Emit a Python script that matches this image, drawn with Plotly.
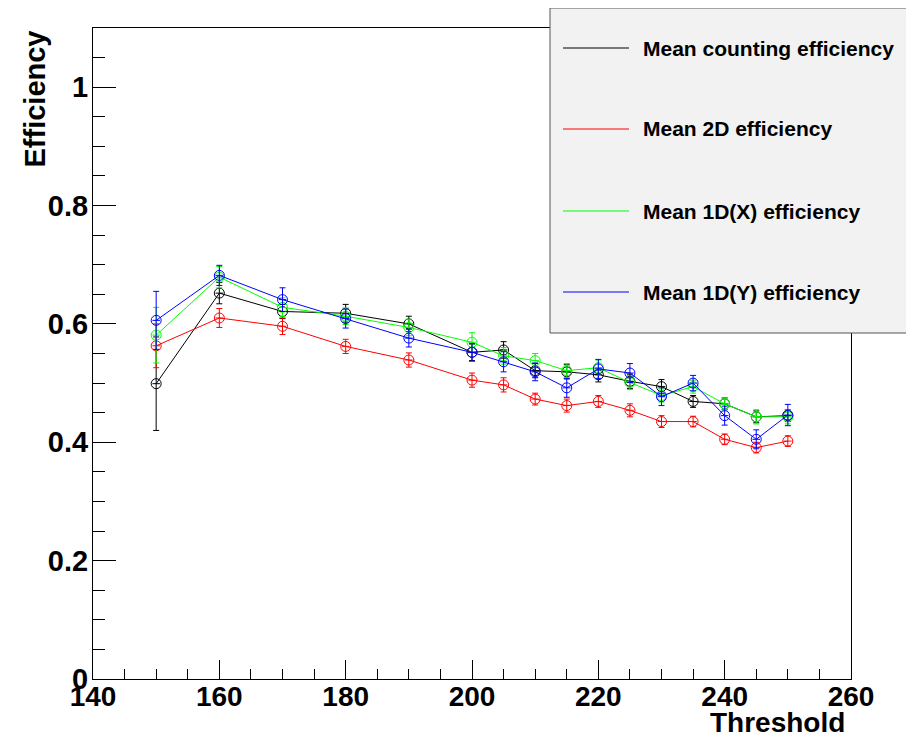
import plotly.graph_objects as go

# ---------------- data ----------------
threshold = [150, 160, 170, 180, 190, 200, 205, 210, 215, 220, 225, 230, 235, 240, 245, 250]
thr_err = [0.6] * 16

eff_counting = [0.499, 0.652, 0.621, 0.618, 0.600, 0.552, 0.556, 0.521, 0.519, 0.514, 0.503, 0.494, 0.469, 0.465, 0.443, 0.445]
err_counting = [0.079, 0.018, 0.012, 0.015, 0.013, 0.014, 0.014, 0.012, 0.012, 0.012, 0.012, 0.012, 0.010, 0.010, 0.010, 0.010]

eff_2d = [0.563, 0.610, 0.596, 0.562, 0.539, 0.505, 0.497, 0.473, 0.462, 0.469, 0.454, 0.435, 0.435, 0.405, 0.391, 0.402]
err_2d = [0.037, 0.016, 0.014, 0.012, 0.012, 0.012, 0.012, 0.010, 0.011, 0.010, 0.011, 0.010, 0.009, 0.009, 0.009, 0.009]

eff_1dx = [0.581, 0.679, 0.628, 0.613, 0.594, 0.569, 0.546, 0.538, 0.521, 0.526, 0.501, 0.479, 0.494, 0.465, 0.443, 0.443]
err_1dx = [0.047, 0.018, 0.016, 0.014, 0.014, 0.016, 0.014, 0.012, 0.012, 0.013, 0.012, 0.011, 0.011, 0.010, 0.012, 0.012]

eff_1dy = [0.606, 0.682, 0.641, 0.609, 0.576, 0.552, 0.536, 0.519, 0.492, 0.524, 0.517, 0.477, 0.500, 0.445, 0.405, 0.446]
err_1dy = [0.049, 0.017, 0.020, 0.016, 0.015, 0.015, 0.017, 0.015, 0.016, 0.016, 0.016, 0.015, 0.013, 0.016, 0.016, 0.018]

series_names = ["Mean counting efficiency", "Mean 2D efficiency",
                "Mean 1D(X) efficiency", "Mean 1D(Y) efficiency"]
series_colors = ["#000000", "#ff0000", "#00ff00", "#0000ff"]
series_values = [eff_counting, eff_2d, eff_1dx, eff_1dy]
series_errors = [err_counting, err_2d, err_1dx, err_1dy]

x_title = "Threshold"
y_title = "Efficiency"

# ---------------- layout geometry ----------------
# page body has an 8px margin, so the figure is 8px smaller and offset
OFF = 8
W, H = 914 - OFF, 745 - OFF
ML, MR, MT, MB = 93 - OFF, 63, 28 - OFF, 66
PW, PH = W - ML - MR, H - MT - MB
FONT = "Liberation Sans, Arial, Helvetica, sans-serif"


def px_x(p):
    return (p - OFF - ML) / PW


def px_y(p):
    return (H + OFF - MB - p) / PH


fig = go.Figure()
for name, col, vals, errs in zip(series_names, series_colors, series_values, series_errors):
    fig.add_trace(go.Scatter(
        x=threshold, y=vals, name=name, mode="lines+markers",
        line=dict(color=col, width=1),
        marker=dict(symbol="circle-open", size=10, color=col, line=dict(width=1, color=col)),
        error_y=dict(type="data", array=errs, visible=True, color=col, thickness=1, width=3),
        error_x=dict(type="data", array=thr_err, visible=True, color=col, thickness=1, width=0),
        showlegend=False,
    ))

shapes = []
annotations = []

# legend box
shapes.append(dict(type="rect", xref="paper", yref="paper",
                   x0=px_x(550), x1=px_x(940), y0=px_y(333), y1=px_y(8),
                   fillcolor="#f2f2f2", line=dict(color="#555555", width=1), layer="above"))
leg_y = [48, 129, 211, 292]
for name, col, yy in zip(series_names, series_colors, leg_y):
    shapes.append(dict(type="line", xref="paper", yref="paper",
                       x0=px_x(563), x1=px_x(629), y0=px_y(yy), y1=px_y(yy),
                       line=dict(color=col, width=1.2), layer="above"))
    annotations.append(dict(xref="paper", yref="paper", x=px_x(641), y=px_y(yy),
                            xanchor="left", yanchor="middle", showarrow=False,
                            text=name, font=dict(family=FONT, size=21, color="black", weight="bold")))

annotations.append(dict(xref="paper", yref="paper", x=px_x(847), y=px_y(722),
                        xanchor="right", yanchor="middle", showarrow=False, text=x_title,
                        font=dict(family=FONT, size=28, color="black", weight="bold")))
annotations.append(dict(xref="paper", yref="paper", x=px_x(34), y=px_y(29),
                        xanchor="center", yanchor="top", showarrow=False, text=y_title,
                        textangle=-90,
                        font=dict(family=FONT, size=29, color="black", weight="bold")))

fig.update_layout(
    width=W, height=H,
    margin=dict(l=ML, r=MR, t=MT, b=MB, pad=0),
    paper_bgcolor="white", plot_bgcolor="white",
    shapes=shapes, annotations=annotations,
    showlegend=False,
)
fig.update_xaxes(
    range=[140, 260], tick0=140, dtick=20, ticks="inside", ticklen=19, tickwidth=1,
    tickcolor="black", showline=True, linecolor="black", linewidth=1, mirror=True,
    showgrid=False, zeroline=False, ticklabelstandoff=-8,
    tickfont=dict(family=FONT, size=28, color="black", weight="bold"),
    minor=dict(dtick=5, ticks="inside", ticklen=10, tickcolor="black", tickwidth=1, showgrid=False),
)
fig.update_yaxes(
    range=[0, 1.1], tick0=0, dtick=0.2, ticks="inside", ticklen=23, tickwidth=1,
    tickcolor="black", showline=True, linecolor="black", linewidth=1, mirror=True,
    showgrid=False, zeroline=False, ticklabelstandoff=-2,
    tickfont=dict(family=FONT, size=29, color="black", weight="bold"),
    minor=dict(dtick=0.05, ticks="inside", ticklen=12, tickcolor="black", tickwidth=1, showgrid=False),
)

fig.write_html("out.html")
